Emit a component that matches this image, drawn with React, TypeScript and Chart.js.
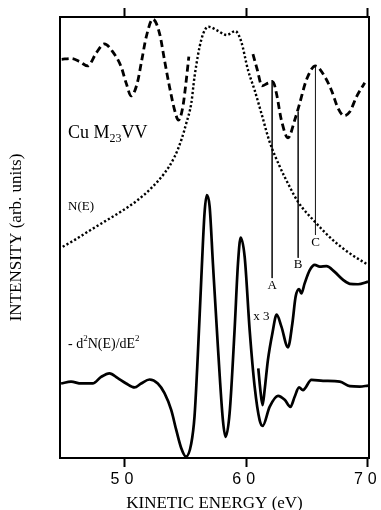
import React, { useEffect, useRef } from 'react';
import { Chart, registerables } from 'chart.js';

Chart.register(...registerables);

// Energies (eV) and intensities (arb. units, 0..100)
const dashedLeftE = [44.84, 45.61, 46.30, 46.98, 47.67, 48.35, 49.04, 49.73, 50.14, 50.55, 51.05, 51.42, 51.79, 52.33, 52.88, 53.29, 53.70, 54.12, 54.44, 54.80, 55.08, 55.29];
const dashedLeftI = [90.4, 90.6, 89.9, 88.9, 91.8, 93.9, 92.1, 88.7, 85.0, 82.1, 85.0, 90.2, 95.5, 99.5, 96.3, 90.2, 84.2, 78.9, 76.6, 79.7, 85.7, 91.0];

const dashedRightE = [60.56, 60.92, 61.30, 61.79, 62.21, 62.49, 62.90, 63.45, 63.99, 64.40, 64.95, 65.70, 66.46, 67.01, 67.56, 68.05, 68.52, 69.07, 69.75];
const dashedRightI = [91.6, 88.0, 84.4, 85.0, 85.3, 82.7, 76.6, 72.6, 76.6, 80.4, 85.7, 88.9, 86.5, 83.4, 79.3, 77.6, 78.5, 81.9, 85.1];

const nE = [44.92, 45.88, 46.98, 48.35, 49.73, 51.09, 52.20, 53.29, 54.12, 54.67, 55.08, 55.49, 55.76, 56.31, 56.91, 57.65, 58.40, 59.11, 59.60, 60.15, 60.70, 61.25, 61.93, 62.76, 63.58, 64.26, 65.64, 67.14, 68.52, 70.02];
const nI = [47.9, 49.4, 51.3, 53.6, 55.9, 58.5, 61.2, 64.6, 68.3, 72.1, 75.9, 80.4, 86.5, 94.8, 97.8, 96.9, 95.9, 96.8, 94.4, 88.0, 83.4, 78.2, 71.7, 66.1, 61.5, 58.1, 53.6, 49.4, 46.4, 43.8];

const mainE = [44.79, 45.61, 46.44, 47.39, 48.08, 48.77, 49.45, 50.14, 50.82, 51.37, 52.06, 52.74, 53.29, 53.84, 54.26, 54.67, 55.05, 55.49, 55.76, 56.03, 56.31, 56.58, 56.77, 57.00, 57.27, 57.68, 58.09, 58.31, 58.64, 59.05, 59.33, 59.55, 59.88, 60.29, 60.70, 61.11, 61.36, 61.93, 62.62, 63.17, 63.64, 63.99, 64.35, 64.67, 65.37, 66.32, 67.70, 68.52, 69.34, 70.02];
const mainI = [16.9, 17.3, 16.9, 16.9, 18.4, 19.2, 18.1, 16.9, 16.0, 16.9, 17.8, 16.9, 14.7, 10.9, 6.3, 2.2, 0.3, 3.3, 9.5, 23.4, 40.4, 55.5, 59.6, 57.0, 44.1, 25.2, 8.6, 4.8, 10.1, 29.0, 44.1, 50.0, 45.6, 29.0, 16.2, 8.6, 7.3, 11.6, 14.1, 13.2, 11.6, 13.9, 16.0, 15.4, 17.7, 17.5, 17.3, 16.3, 16.2, 16.4];

const x3E = [61.00, 61.17, 61.35, 61.52, 61.79, 62.16, 62.51, 62.90, 63.44, 63.80, 64.07, 64.35, 64.54, 64.81, 65.23, 65.64, 66.05, 66.60, 67.28, 67.97, 68.52, 69.20, 70.02];
const x3I = [20.3, 15.4, 12.0, 15.4, 22.2, 28.3, 32.5, 29.8, 25.1, 30.5, 36.6, 38.3, 37.3, 39.6, 42.6, 43.8, 43.4, 43.5, 42.2, 40.4, 39.5, 39.4, 40.0];

const markerLabels = ['A', 'B', 'C'];
const markerE = [62.14, 64.28, 65.70];
const markerTop = [85.7, 78.5, 88.7];
const markerBottom = [40.8, 45.4, 50.6];
const markerLabelY = [39.0, 43.8, 48.8];

const xTicks = [50, 60, 70];
const X_MIN = 44.7;
const X_MAX = 70.1;

const pts = (xs: number[], ys: number[]) => xs.map((x, i) => ({ x, y: ys[i] }));

const SERIF = '"Liberation Serif", "Times New Roman", serif';

const textPlugin = {
  id: 'textLabels',
  afterDatasetsDraw(chart: any) {
    const { ctx, scales } = chart;
    const sx = (v: number) => scales.x.getPixelForValue(v);
    const sy = (v: number) => scales.y.getPixelForValue(v);
    ctx.save();
    ctx.fillStyle = '#000';
    ctx.textBaseline = 'alphabetic';
    ctx.textAlign = 'left';

    // Cu M23VV
    let px = sx(45.36);
    let py = sy(72.6);
    ctx.font = `18px ${SERIF}`;
    ctx.fillText('Cu M', px, py);
    px += ctx.measureText('Cu M').width;
    ctx.font = `12px ${SERIF}`;
    ctx.fillText('23', px, py + 4);
    px += ctx.measureText('23').width;
    ctx.font = `18px ${SERIF}`;
    ctx.fillText('VV', px, py);

    // N(E)
    ctx.font = `13px ${SERIF}`;
    ctx.fillText('N(E)', sx(45.36), sy(56.2));

    // x 3
    ctx.fillText('x 3', sx(60.59), sy(31.3));

    // - d2N(E)/dE2
    px = sx(45.36);
    py = sy(24.9);
    ctx.font = `14px ${SERIF}`;
    ctx.fillText('- d', px, py);
    px += ctx.measureText('- d').width;
    ctx.font = `9px ${SERIF}`;
    ctx.fillText('2', px, py - 7);
    px += ctx.measureText('2').width;
    ctx.font = `14px ${SERIF}`;
    ctx.fillText('N(E)/dE', px, py);
    px += ctx.measureText('N(E)/dE').width;
    ctx.font = `9px ${SERIF}`;
    ctx.fillText('2', px, py - 7);

    // A, B, C
    ctx.font = `13px ${SERIF}`;
    ctx.textAlign = 'center';
    ctx.textBaseline = 'middle';
    markerLabels.forEach((l, i) => {
      ctx.fillText(l, sx(markerE[i]), sy(markerLabelY[i]));
    });
    ctx.restore();
    // spaced digits for the tick labels (drawn after datasets, z = 1)
    (ctx as any).letterSpacing = '5px';
  },
  afterDraw(chart: any) {
    (chart.ctx as any).letterSpacing = '0px';
  },
};

export default function App() {
  const ref = useRef<HTMLCanvasElement | null>(null);

  useEffect(() => {
    if (!ref.current) return;
    const solid = { borderColor: '#000', pointRadius: 0, fill: false, cubicInterpolationMode: 'monotone' as const };
    const markerSets = markerE.map((e, i) => ({
      data: [{ x: e, y: markerTop[i] }, { x: e, y: markerBottom[i] }],
      borderColor: '#222',
      borderWidth: 1,
      pointRadius: 0,
      fill: false,
    }));
    const chart = new Chart(ref.current, {
      type: 'line',
      data: {
        datasets: [
          { ...solid, data: pts(dashedLeftE, dashedLeftI), borderWidth: 2.8, borderDash: [7, 4] },
          { ...solid, data: pts(dashedRightE, dashedRightI), borderWidth: 2.8, borderDash: [7, 4] },
          { ...solid, data: pts(nE, nI), borderWidth: 2.4, borderDash: [2.2, 2.2] },
          { ...solid, data: pts(mainE, mainI), borderWidth: 2.7 },
          { ...solid, data: pts(x3E, x3I), borderWidth: 2.7 },
          ...markerSets,
        ] as any,
      },
      options: {
        animation: false,
        responsive: false,
        maintainAspectRatio: false,
        layout: { padding: { left: 0, right: 12, top: 0, bottom: 0 } },
        plugins: { legend: { display: false }, tooltip: { enabled: false } },
        scales: {
          x: {
            type: 'linear',
            position: 'bottom',
            min: X_MIN,
            max: X_MAX,
            afterBuildTicks: (s: any) => { s.ticks = xTicks.map((v) => ({ value: v })); },
            afterFit: (s: any) => { s.height = 52; },
            grid: { drawOnChartArea: false, drawTicks: true, tickLength: 9, tickWidth: 2, tickColor: '#000' },
            border: { display: true, color: '#000', width: 2 },
            ticks: {
              z: 1,
              padding: 3,
              color: '#000',
              maxRotation: 0,
              font: { family: '"Liberation Sans", Arial, sans-serif', size: 16 },
            },
            title: {
              display: true,
              text: 'KINETIC ENERGY (eV)',
              color: '#000',
              font: { family: 'Liberation Serif', size: 17 },
              padding: { top: 0, bottom: -3.5 },
            },
          },
          x2: {
            type: 'linear',
            position: 'top',
            min: X_MIN,
            max: X_MAX,
            afterBuildTicks: (s: any) => { s.ticks = xTicks.map((v) => ({ value: v })); },
            afterFit: (s: any) => { s.height = 17; },
            grid: { drawOnChartArea: false, drawTicks: true, tickLength: 9, tickWidth: 2, tickColor: '#000' },
            border: { display: true, color: '#000', width: 2 },
            ticks: { display: false },
          },
          y: {
            type: 'linear',
            position: 'left',
            min: 0,
            max: 100,
            afterFit: (s: any) => { s.width = 60; },
            grid: { drawOnChartArea: false, drawTicks: false },
            border: { display: true, color: '#000', width: 2 },
            ticks: { display: false },
            title: {
              display: true,
              text: 'INTENSITY (arb. units)',
              color: '#000',
              font: { family: 'Liberation Serif', size: 17 },
              padding: { top: 6.5, bottom: 0 },
            },
          },
          y2: {
            type: 'linear',
            position: 'right',
            min: 0,
            max: 100,
            afterFit: (s: any) => { s.width = 0; },
            grid: { drawOnChartArea: false, drawTicks: false },
            border: { display: true, color: '#000', width: 2 },
            ticks: { display: false },
          },
        },
      } as any,
      plugins: [textPlugin as any],
    });
    return () => chart.destroy();
  }, []);

  return (
    <div style={{ position: 'fixed', left: 0, top: 0, width: 381, height: 510, background: '#fff' }}>
      <canvas ref={ref} width={381} height={510} style={{ display: 'block' }} />
    </div>
  );
}
